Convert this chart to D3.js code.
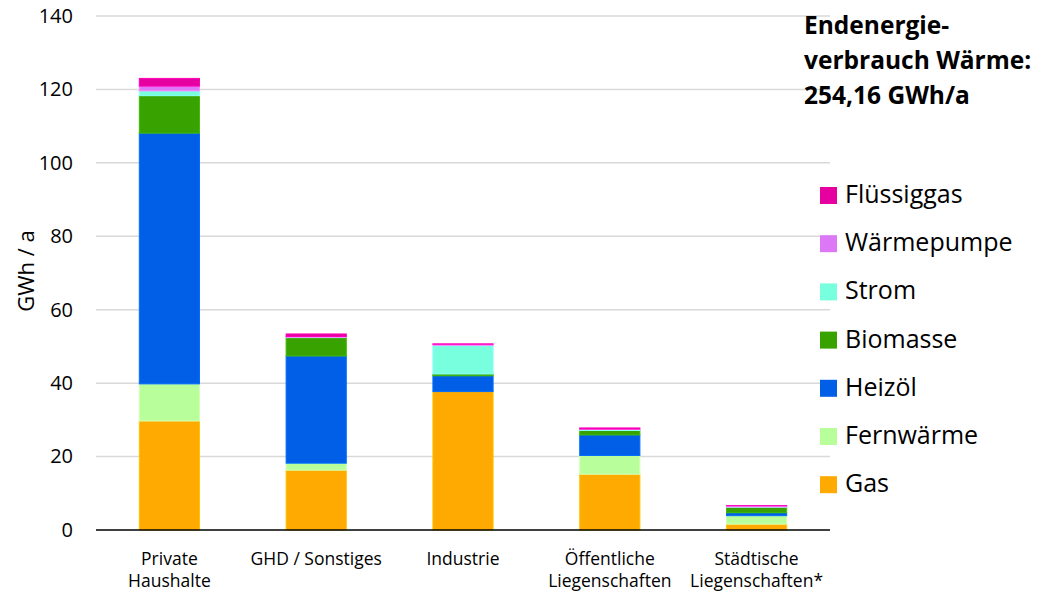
<!DOCTYPE html>
<html><head><meta charset="utf-8">
<script src="https://cdn.jsdelivr.net/npm/d3@7"></script>
<style>body{margin:0;background:#fff}svg{display:block;font-family:"Open Sans",sans-serif}</style>
</head><body><svg id="c" width="1048" height="594"></svg>
<script>
const categories = [["Private","Haushalte"],["GHD / Sonstiges"],["Industrie"],["Öffentliche","Liegenschaften"],["Städtische","Liegenschaften*"]];
const catKeys = ["Private Haushalte","GHD / Sonstiges","Industrie","Öffentliche Liegenschaften","Städtische Liegenschaften*"];
const seriesNames = ["Gas","Fernwärme","Heizöl","Biomasse","Strom","Wärmepumpe","Flüssiggas"];
const seriesColors = ["#FFAA00","#B8FF9C","#005FE6","#38A300","#78FFDD","#DC78F6","#E600A0"];
const gas        = [29.7, 16.3, 37.7, 15.2, 1.6];
const fernwaerme = [10.1, 1.9, 0.0, 5.1, 2.3];
const heizoel    = [68.3, 29.2, 4.3, 5.6, 0.8];
const biomasse   = [10.2, 5.0, 0.5, 1.2, 1.5];
const strom      = [1.3, 0.1, 7.8, 0.3, 0.1];
const waermepumpe= [1.3, 0.2, 0.3, 0.1, 0.3];
const fluessiggas= [2.1, 0.7, 0.1, 0.3, 0.05];
const yTicks = [0,20,40,60,80,100,120,140];
const titleLines = ["Endenergie-","verbrauch Wärme:","254,16 GWh/a"];

const seriesValues = [gas,fernwaerme,heizoel,biomasse,strom,waermepumpe,fluessiggas];
const rows = catKeys.map((k,i)=>{const r={cat:k};seriesNames.forEach((s,j)=>r[s]=seriesValues[j][i]);return r;});
const stack = d3.stack().keys(seriesNames)(rows);

const svg = d3.select("#c");
const pLeft=96, pRight=830, pTop=16, pBottom=530;
const x = d3.scaleBand().domain(catKeys).range([pLeft,pRight]).paddingInner(0.59).paddingOuter(0.295);
const y = d3.scaleLinear().domain([0,140]).range([pBottom,pTop]);

// grid
svg.append("g").selectAll("line").data(yTicks.filter(t=>t>0)).join("line")
  .attr("x1",pLeft).attr("x2",pRight).attr("y1",d=>y(d)).attr("y2",d=>y(d))
  .attr("stroke","#D9D9D9").attr("stroke-width",1.5);

// y axis labels
const yAxis = d3.axisLeft(y).tickValues(yTicks).tickSize(0).tickPadding(23);
const gy = svg.append("g").attr("transform",`translate(${pLeft},0)`).call(yAxis);
gy.select(".domain").remove();
gy.selectAll("text").attr("font-size",20).attr("fill","#000").attr("font-family","Open Sans, sans-serif");

// bars
svg.append("g").selectAll("g").data(stack).join("g")
  .attr("fill",(d,i)=>seriesColors[i])
  .attr("stroke",(d,i)=>d3.color(seriesColors[i]).brighter(0.4))
  .attr("stroke-width",1)
  .selectAll("rect").data(d=>d).join("rect")
  .attr("x",d=>x(d.data.cat)).attr("width",x.bandwidth())
  .attr("y",d=>y(d[1])).attr("height",d=>Math.max(0,y(d[0])-y(d[1])));

// x axis line
svg.append("line").attr("x1",pLeft).attr("x2",pRight).attr("y1",pBottom).attr("y2",pBottom)
  .attr("stroke","#000").attr("stroke-width",1.5);

// x labels
const xl = svg.append("g").selectAll("text").data(catKeys).join("text")
  .attr("x",d=>x(d)+x.bandwidth()/2).attr("y",565)
  .attr("text-anchor","middle").attr("font-size",17.5).attr("fill","#000");
xl.each(function(d,i){
  const t=d3.select(this);
  categories[i].forEach((line,j)=>t.append("tspan").attr("x",x(d)+x.bandwidth()/2).attr("dy",j?22:0).text(line));
});

// y title
svg.append("text").attr("transform","translate(34,271) rotate(-90)")
  .attr("text-anchor","middle").attr("font-size",22).attr("fill","#000").text("GWh / a");

// title
svg.append("g").selectAll("text").data(titleLines).join("text")
  .attr("x",804).attr("y",(d,i)=>34+i*35).attr("font-size",24.5).attr("font-weight","bold")
  .attr("fill","#000").text(d=>d);

// legend
const legOrder = seriesNames.map((s,i)=>i).reverse();
const lg = svg.append("g").selectAll("g").data(legOrder).join("g")
  .attr("transform",(d,i)=>`translate(820,${195+i*48.2})`);
lg.append("rect").attr("x",0).attr("y",-8).attr("width",17).attr("height",17).attr("fill",d=>seriesColors[d]);
lg.append("text").attr("x",25).attr("y",8).attr("font-size",25).attr("fill","#000").text(d=>seriesNames[d]);
</script></body></html>
